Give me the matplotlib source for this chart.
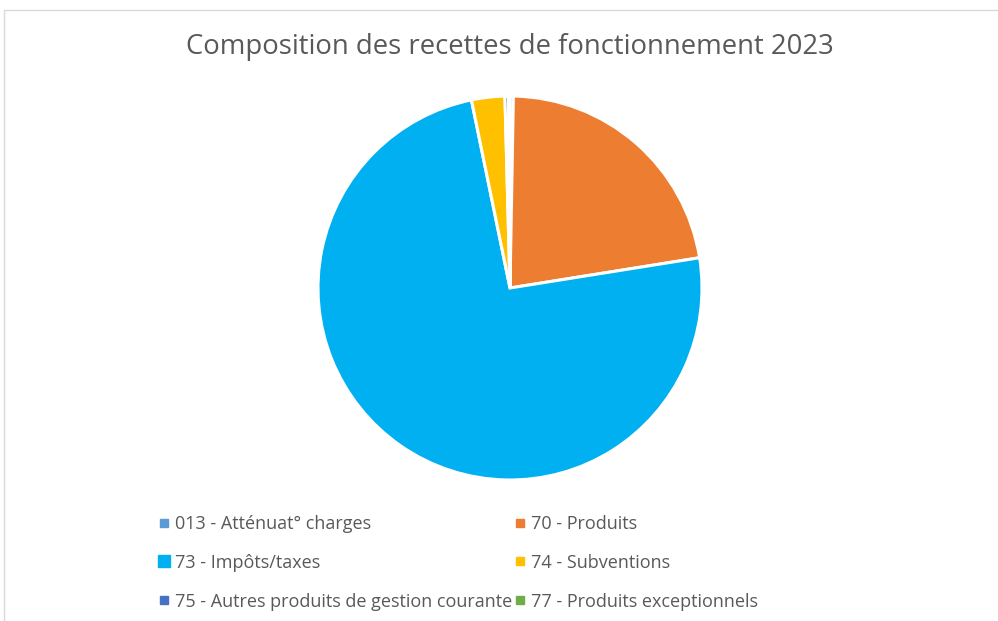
import matplotlib.pyplot as plt
from matplotlib.patches import Rectangle
from matplotlib.lines import Line2D

plt.rcParams['font.family'] = ['Open Sans', 'DejaVu Sans']

labels = ['013 - Atténuat° charges', '70 - Produits', '73 - Impôts/taxes',
          '74 - Subventions', '75 - Autres produits de gestion courante',
          '77 - Produits exceptionnels']
values = [0.28, 22.2, 74.3, 2.8, 0.3, 0.12]
colors = ['#5B9BD5', '#ED7D31', '#00B0F0', '#FFC000', '#4472C4', '#70AD47']

fig = plt.figure(figsize=(9.98, 6.21), dpi=100)

# chart frame
fig.patches.append(Rectangle((4 / 998, -0.01), 1.0, 1 - 10 / 621 + 0.01,
                             transform=fig.transFigure, fill=False,
                             edgecolor='#D9D9D9', linewidth=1))

fig.text(510 / 998, 1 - 47 / 621, 'Composition des recettes de fonctionnement 2023',
         ha='center', va='center', fontsize=19.8, color='#595959')

ax = fig.add_axes([318 / 998, 141 / 621, 384 / 998, 384 / 621])
ax.pie(values, colors=colors, startangle=90, counterclock=False,
       wedgeprops=dict(edgecolor='white', linewidth=2.2))
ax.set_xlim(-1, 1)
ax.set_ylim(-1, 1)
ax.set_aspect('equal')

# legend, row-major order like the original
sizes = [6, 6, 9, 6, 6, 6]
handles = [Line2D([], [], marker='s', linestyle='none', markersize=s,
                  markerfacecolor=c, markeredgecolor=c)
           for c, s in zip(colors, sizes)]
order = [0, 2, 4, 1, 3, 5]
fig.legend([handles[i] for i in order], [labels[i] for i in order],
           ncol=2, frameon=False, loc='upper left',
           bbox_to_anchor=(150 / 998, 1 - 506 / 621),
           fontsize=13, labelcolor='#595959', handlelength=0.6,
           handletextpad=0.3, columnspacing=0.1, labelspacing=1.15,
           borderpad=0)

fig.savefig('out.png', dpi=100)
